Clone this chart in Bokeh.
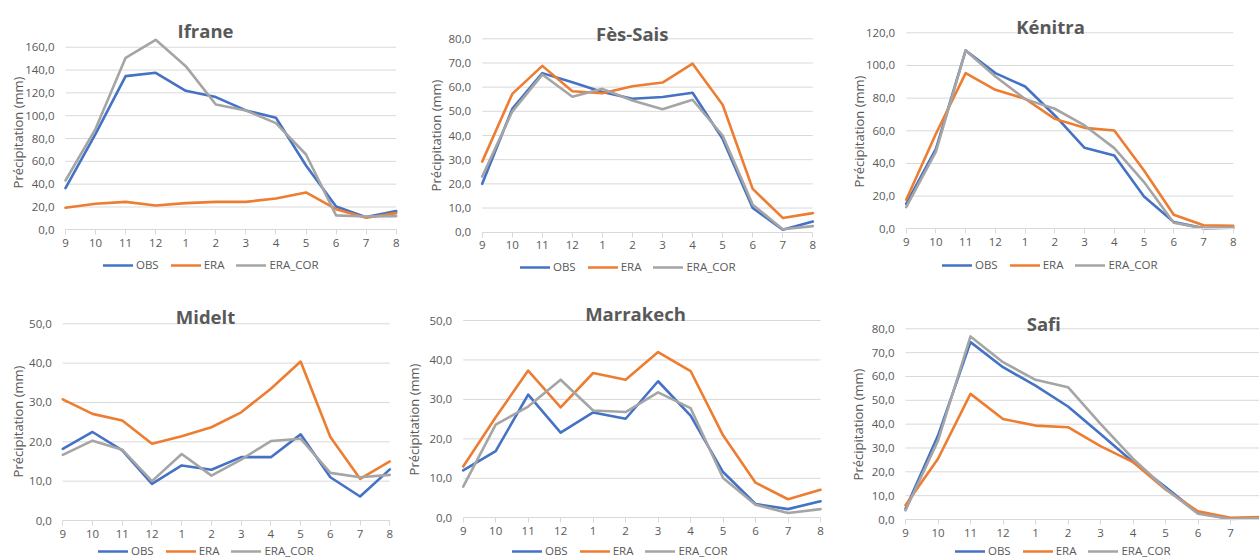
import math
from bokeh.plotting import figure
from bokeh.models import Range1d, FixedTicker, Legend, LegendItem, Label
from bokeh.layouts import row, column
from bokeh.embed import file_html
from bokeh.resources import INLINE

months = ["9", "10", "11", "12", "1", "2", "3", "4", "5", "6", "7", "8"]
series_names = ["OBS", "ERA", "ERA_COR"]
colors = ["#4472C4", "#ED7D31", "#A5A5A5"]
y_label = "Précipitation (mm)"

ifrane_obs = [36.5, 84.0, 134.7, 137.6, 121.8, 116.3, 104.6, 98.2, 56.4, 20.4, 11.1, 16.4]
ifrane_era = [19.3, 22.8, 24.5, 21.3, 23.4, 24.5, 24.5, 27.5, 32.7, 18.1, 10.5, 14.6]
ifrane_cor = [43.2, 88.5, 150.7, 166.5, 143.4, 109.8, 104.6, 93.5, 66.0, 12.6, 11.7, 12.0]

fes_obs = [20.0, 51.0, 65.8, 62.0, 58.0, 55.2, 55.9, 57.7, 38.6, 10.0, 1.0, 4.4]
fes_era = [29.2, 57.2, 68.8, 58.3, 57.5, 60.4, 61.9, 69.7, 52.7, 17.9, 5.9, 7.9]
fes_cor = [23.0, 49.9, 65.2, 56.0, 59.3, 54.5, 50.9, 54.8, 40.0, 11.4, 1.2, 2.5]

kenitra_obs = [15.3, 49.0, 109.2, 95.3, 87.1, 69.4, 49.6, 44.9, 19.8, 4.1, 0.4, 0.6]
kenitra_era = [17.8, 58.2, 95.3, 85.1, 79.6, 67.3, 61.8, 60.2, 35.7, 8.6, 2.2, 1.8]
kenitra_cor = [13.3, 47.3, 109.2, 93.3, 79.4, 73.5, 63.3, 49.4, 28.6, 3.7, 0.4, 0.8]

midelt_obs = [18.2, 22.5, 17.8, 9.3, 14.0, 12.9, 16.1, 16.1, 21.9, 11.0, 6.1, 13.0]
midelt_era = [30.8, 27.1, 25.4, 19.5, 21.4, 23.7, 27.5, 33.5, 40.4, 21.2, 10.6, 15.0]
midelt_cor = [16.7, 20.3, 18.0, 10.0, 16.9, 11.4, 15.5, 20.2, 20.8, 12.1, 11.0, 11.6]

marrakech_obs = [12.0, 16.9, 31.2, 21.6, 26.7, 25.1, 34.6, 25.9, 11.6, 3.5, 2.2, 4.2]
marrakech_era = [13.0, 25.5, 37.3, 28.0, 36.7, 35.0, 42.0, 37.2, 20.9, 8.9, 4.7, 7.1]
marrakech_cor = [7.9, 23.6, 28.2, 35.0, 27.2, 26.8, 31.8, 27.8, 10.1, 3.3, 1.2, 2.2]

safi_obs = [4.5, 35.2, 74.4, 63.9, 56.2, 47.4, 35.9, 24.1, 13.6, 2.7, 0.3, 0.5]
safi_era = [6.0, 25.5, 52.7, 42.2, 39.4, 38.7, 30.8, 24.1, 12.6, 3.4, 0.7, 1.1]
safi_cor = [3.8, 33.1, 76.8, 66.0, 58.6, 55.5, 40.1, 25.5, 12.9, 2.4, 0.2, 0.6]

TEXT = "#595959"
GRID = "#D9D9D9"
FONT = "Open Sans"


def panel(title, series, ymax_axis, ystep, ytop_tick, fig_box, x0, x11, y0px, ytop_px,
          title_xy, legend_xy, ylab_xy):
    fl, ft, fw, fh = fig_box
    xstep = (x11 - x0) / 11.0
    ppu = (y0px - ytop_px) / ymax_axis
    xs_start = (fl - x0) / xstep
    xs_end = (fl + fw - x0) / xstep
    ys_start = (y0px - (ft + fh)) / ppu
    ys_end = (y0px - ft) / ppu
    ncat = len(months) - 1

    p = figure(width=fw, height=fh, x_range=Range1d(xs_start, xs_end),
               y_range=Range1d(ys_start, ys_end),
               output_backend="svg", toolbar_location=None,
               min_border=0, min_border_left=0, min_border_right=0,
               min_border_top=0, min_border_bottom=0)
    p.outline_line_color = None
    p.background_fill_color = "white"
    p.border_fill_color = "white"
    p.xgrid.grid_line_color = None
    p.ygrid.grid_line_color = None

    yt = list(range(0, ytop_tick + 1, ystep))
    gy = [t for t in yt if t != 0]
    p.segment(x0=[0] * len(gy), x1=[ncat] * len(gy), y0=gy, y1=gy,
              line_color=GRID, line_width=1)

    xs = list(range(len(months)))
    rs = []
    for vals, c in zip(series, colors):
        r = p.line(xs, vals, line_color=c, line_width=2.6, line_join="round", line_cap="round")
        rs.append(r)

    p.yaxis.fixed_location = 0
    p.yaxis.ticker = FixedTicker(ticks=yt)
    p.yaxis.major_label_overrides = {t: ("%.1f" % t).replace(".", ",") for t in yt}
    p.yaxis.axis_line_color = None
    p.yaxis.major_tick_line_color = None
    p.yaxis.minor_tick_line_color = None
    p.yaxis.major_tick_out = 0
    p.yaxis.major_tick_in = 0
    p.yaxis.major_label_standoff = 11
    p.yaxis.major_label_text_font = FONT
    p.yaxis.major_label_text_font_size = "11.5px"
    p.yaxis.major_label_text_color = TEXT

    p.xaxis.fixed_location = 0
    p.xaxis.bounds = (0, ncat)
    p.xaxis.ticker = FixedTicker(ticks=xs)
    p.xaxis.major_label_overrides = {i: m for i, m in enumerate(months)}
    p.xaxis.axis_line_color = GRID
    p.xaxis.axis_line_width = 1
    p.xaxis.major_tick_line_color = GRID
    p.xaxis.minor_tick_line_color = None
    p.xaxis.major_tick_out = 5
    p.xaxis.major_tick_in = 0
    p.xaxis.major_label_standoff = 4
    p.xaxis.major_label_text_font = FONT
    p.xaxis.major_label_text_font_size = "11.5px"
    p.xaxis.major_label_text_color = TEXT

    tx, ty = title_xy
    p.add_layout(Label(x=(tx - x0) / xstep, y=(y0px - ty) / ppu, text=title,
                       text_font=FONT, text_font_size="18.5px", text_font_style="bold",
                       text_color=TEXT, text_align="center", text_baseline="middle"))

    lbx, lby = ylab_xy
    p.add_layout(Label(x=(lbx - x0) / xstep, y=(y0px - lby) / ppu, text=y_label,
                       angle=math.pi / 2, text_font=FONT, text_font_size="13px",
                       text_color=TEXT, text_align="center", text_baseline="middle"))

    lx, ly = legend_xy
    items = [LegendItem(label=n, renderers=[r]) for n, r in zip(series_names, rs)]
    leg = Legend(items=items, orientation="horizontal",
                 location=(round(lx - fl), round((ft + fh) - (ly + 7))),
                 glyph_width=30, glyph_height=14, label_height=14, label_standoff=3,
                 spacing=12, padding=0, margin=0, border_line_color=None,
                 background_fill_alpha=0, label_text_font=FONT,
                 label_text_font_size="11.5px", label_text_color=TEXT)
    p.add_layout(leg)
    return p


p1 = panel("Ifrane", [ifrane_obs, ifrane_era, ifrane_cor], 170, 20, 160,
           (0, 0, 420, 285), 65.0, 395.7, 229.3, 35.3, (205, 30), (103, 265), (17, 132))
p2 = panel("Fès-Sais", [fes_obs, fes_era, fes_cor], 80, 10, 80,
           (420, 0, 420, 285), 481.7, 812.3, 231.7, 38.3, (631.7, 33.3), (520, 267), (435, 135))
p3 = panel("Kénitra", [kenitra_obs, kenitra_era, kenitra_cor], 120, 20, 120,
           (840, 0, 419, 285), 905.7, 1232.7, 228.3, 32.3, (1050, 26), (941.7, 265), (858, 131))
p4 = panel("Midelt", [midelt_obs, midelt_era, midelt_cor], 50, 10, 50,
           (0, 285, 403, 275), 62.3, 389.3, 520.0, 323.3, (205, 316), (98, 551), (17, 421))
p5 = panel("Marrakech", [marrakech_obs, marrakech_era, marrakech_cor], 50, 10, 50,
           (403, 285, 437, 275), 462.7, 820.0, 517.3, 320.0, (635, 313.3), (511.7, 551), (413, 419))
p6 = panel("Safi", [safi_obs, safi_era, safi_cor], 80, 10, 80,
           (840, 285, 419, 275), 905.0, 1262.5, 519.0, 328.3, (1043.3, 323.3), (955, 551), (857, 424))

layout = column(row(p1, p2, p3), row(p4, p5, p6))
open("out.html", "w").write(file_html(layout, INLINE))
